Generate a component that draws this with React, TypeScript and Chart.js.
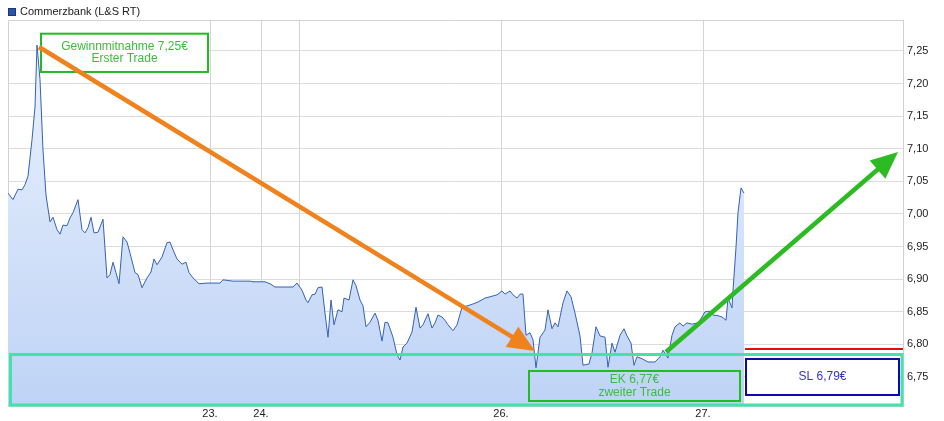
import React, { useEffect, useRef } from 'react';
import { Chart, registerables } from 'chart.js';

Chart.register(...registerables);

const seriesName = 'Commerzbank (L&S RT)';

// trading time (abstract session units) and last price
const times = [
  0, 5, 10, 14, 17, 20, 24, 27, 29, 32, 35, 38, 42, 45, 49, 52, 55, 59, 62, 65,
  70, 74, 77, 80, 83, 86, 90, 95, 99, 102, 105, 108, 111, 115, 119, 122, 127, 130, 134, 139,
  143, 146, 149, 154, 159, 162, 165, 169, 174, 178, 181, 185, 191, 199, 212, 215, 225, 242, 245, 257,
  262, 267, 285, 289, 294, 298, 300, 304, 307, 310, 314, 317, 320, 323, 326, 330, 334, 336, 341, 345,
  348, 352, 355, 358, 362, 367, 370, 374, 377, 380, 385, 389, 392, 395, 399, 404, 408, 412, 415, 420,
  424, 427, 430, 434, 437, 440, 445, 449, 454, 459, 465, 470, 477, 482, 489, 494, 497, 502, 505, 509,
  512, 515, 518, 522, 525, 528, 532, 537, 540, 544, 547, 550, 555, 559, 563, 567, 572, 575, 581, 584,
  588, 592, 597, 600, 604, 607, 612, 616, 619, 623, 626, 629, 634, 640, 647, 652, 655, 660, 664, 667,
  672, 675, 679, 684, 690, 694, 697, 702, 705, 710, 714, 718, 720, 724, 725, 728, 730, 733, 736,
];
const prices = [
  7.032, 7.022, 7.038, 7.037, 7.045, 7.058, 7.114, 7.164, 7.259, 7.206, 7.098, 7.029, 6.988, 6.995, 6.976, 6.969, 6.983, 6.982, 6.994, 7.002,
  7.022, 6.976, 6.971, 6.979, 6.995, 6.971, 6.972, 6.992, 6.902, 6.907, 6.926, 6.91, 6.893, 6.965, 6.957, 6.94, 6.91, 6.907, 6.887, 6.902,
  6.911, 6.931, 6.922, 6.934, 6.956, 6.957, 6.945, 6.931, 6.923, 6.926, 6.91, 6.902, 6.893, 6.894, 6.894, 6.899, 6.897, 6.897, 6.896, 6.896,
  6.893, 6.888, 6.888, 6.894, 6.883, 6.868, 6.864, 6.876, 6.877, 6.887, 6.888, 6.848, 6.811, 6.868, 6.83, 6.853, 6.85, 6.871, 6.868, 6.899,
  6.89, 6.868, 6.859, 6.827, 6.834, 6.848, 6.837, 6.805, 6.834, 6.833, 6.811, 6.784, 6.776, 6.796, 6.802, 6.819, 6.857, 6.825, 6.83, 6.847,
  6.825, 6.833, 6.845, 6.842, 6.837, 6.83, 6.821, 6.83, 6.857, 6.859, 6.862, 6.865, 6.871, 6.873, 6.876, 6.882, 6.877, 6.882, 6.876, 6.871,
  6.877, 6.877, 6.814, 6.818, 6.807, 6.764, 6.811, 6.822, 6.853, 6.824, 6.833, 6.827, 6.864, 6.882, 6.873, 6.848, 6.813, 6.768, 6.77, 6.787,
  6.827, 6.813, 6.811, 6.765, 6.802, 6.788, 6.814, 6.824, 6.813, 6.802, 6.768, 6.781, 6.778, 6.773, 6.773, 6.781, 6.791, 6.779, 6.814, 6.827,
  6.833, 6.828, 6.833, 6.831, 6.833, 6.842, 6.85, 6.851, 6.845, 6.844, 6.842, 6.837, 6.871, 6.856, 6.883, 6.949, 7.002, 7.04, 7.032,
];

const xMin = 0;
const xMax = 895;
const yMin = 6.7055;
const yMax = 7.2975;

const dayTickTimes = [202, 253, 291, 493, 695];
const dayTickLabels = ['23.', '24.', '', '26.', '27.'];
const priceTicks = [6.75, 6.8, 6.85, 6.9, 6.95, 7.0, 7.05, 7.1, 7.15, 7.2, 7.25];

// annotations (time / price coordinates)
const takeProfitBox = { t0: 33, t1: 200, v0: 7.2765, v1: 7.2178, lines: ['Gewinnmitnahme 7,25€', 'Erster Trade'] };
const entryBox = { t0: 521, t1: 732, v0: 6.7592, v1: 6.7132, lines: ['EK 6,77€', 'zweiter Trade'] };
const stopBox = { t0: 738, t1: 891, v0: 6.7776, v1: 6.7224, lines: ['SL 6,79€'] };
const zoneBox = { t0: 2.5, t1: 894, v0: 6.7845, v1: 6.707 };
const downArrow = { t0: 31, v0: 7.2561, t1: 527, v1: 6.7899 };
const upArrow = { t0: 658, v0: 6.7884, t1: 890, v1: 7.0951 };
const stopLine = { t0: 737, t1: 895, v: 6.793 };

const FONT = '"Liberation Sans", Arial, Helvetica, sans-serif';

function drawArrow(ctx: CanvasRenderingContext2D, x0: number, y0: number, x1: number, y1: number, color: string) {
  const ang = Math.atan2(y1 - y0, x1 - x0);
  const headLen = 27;
  const headHalf = 12;
  const bx = x1 - Math.cos(ang) * headLen;
  const by = y1 - Math.sin(ang) * headLen;
  ctx.save();
  ctx.strokeStyle = color;
  ctx.fillStyle = color;
  ctx.lineWidth = 4.5;
  ctx.lineCap = 'butt';
  ctx.beginPath();
  ctx.moveTo(x0, y0);
  ctx.lineTo(bx + Math.cos(ang) * 4, by + Math.sin(ang) * 4);
  ctx.stroke();
  ctx.beginPath();
  ctx.moveTo(x1, y1);
  ctx.lineTo(bx + Math.sin(ang) * headHalf, by - Math.cos(ang) * headHalf);
  ctx.lineTo(bx - Math.sin(ang) * headHalf, by + Math.cos(ang) * headHalf);
  ctx.closePath();
  ctx.fill();
  ctx.restore();
}

const framePlugin = {
  id: 'frame',
  beforeDatasetsDraw(chart: any) {
    const { ctx, chartArea } = chart;
    ctx.save();
    ctx.strokeStyle = '#d2d2d2';
    ctx.lineWidth = 1;
    ctx.beginPath();
    ctx.moveTo(chartArea.left + 0.5, chartArea.bottom);
    ctx.lineTo(chartArea.left + 0.5, chartArea.top + 0.5);
    ctx.lineTo(chartArea.right, chartArea.top + 0.5);
    ctx.stroke();
    ctx.restore();
  },
};

const annotationPlugin = {
  id: 'tradeAnnotations',
  afterDraw(chart: any) {
    const { ctx } = chart;
    const xs = chart.scales.x;
    const ys = chart.scales.y;
    const X = (t: number) => xs.getPixelForValue(t);
    const Y = (v: number) => ys.getPixelForValue(v);

    // legend
    ctx.save();
    ctx.fillStyle = '#2a55ad';
    ctx.fillRect(8, 8, 8, 8);
    ctx.strokeStyle = '#1b3675';
    ctx.lineWidth = 1;
    ctx.strokeRect(8.5, 8.5, 7, 7);
    ctx.fillStyle = '#222';
    ctx.font = '11px ' + FONT;
    ctx.textBaseline = 'middle';
    ctx.textAlign = 'left';
    ctx.fillText(seriesName, 20, 12);
    ctx.restore();

    // zone box
    ctx.save();
    ctx.strokeStyle = '#44e2a6';
    ctx.lineWidth = 3;
    ctx.strokeRect(X(zoneBox.t0), Y(zoneBox.v0), X(zoneBox.t1) - X(zoneBox.t0), Y(zoneBox.v1) - Y(zoneBox.v0));
    ctx.restore();

    // stop line
    ctx.save();
    ctx.strokeStyle = '#dd1111';
    ctx.lineWidth = 2;
    ctx.beginPath();
    ctx.moveTo(X(stopLine.t0), Y(stopLine.v));
    ctx.lineTo(X(stopLine.t1), Y(stopLine.v));
    ctx.stroke();
    ctx.restore();

    const drawBox = (b: any, stroke: string, fill: string | null, textColor: string) => {
      const x0 = X(b.t0), x1 = X(b.t1), y0 = Y(b.v0), y1 = Y(b.v1);
      ctx.save();
      if (fill) {
        ctx.fillStyle = fill;
        ctx.fillRect(x0, y0, x1 - x0, y1 - y0);
      }
      ctx.strokeStyle = stroke;
      ctx.lineWidth = 2;
      ctx.strokeRect(x0, y0, x1 - x0, y1 - y0);
      ctx.fillStyle = textColor;
      ctx.font = '12px ' + FONT;
      ctx.textAlign = 'center';
      ctx.textBaseline = 'middle';
      const cx = (x0 + x1) / 2;
      const cy = (y0 + y1) / 2;
      const lh = 12.5;
      const n = b.lines.length;
      b.lines.forEach((s: string, i: number) => {
        ctx.fillText(s, cx, cy + (i - (n - 1) / 2) * lh);
      });
      ctx.restore();
    };

    drawBox(takeProfitBox, '#22bb22', '#ffffff', '#3cbc3c');
    drawBox(entryBox, '#22bb22', null, '#3cbc3c');
    drawBox(stopBox, '#0a0aa8', '#ffffff', '#3434d4');

    drawArrow(ctx, X(downArrow.t0), Y(downArrow.v0), X(downArrow.t1), Y(downArrow.v1), '#f0821e');
    drawArrow(ctx, X(upArrow.t0), Y(upArrow.v0), X(upArrow.t1), Y(upArrow.v1), '#2cbb22');
  },
};

export default function App() {
  const canvasRef = useRef<HTMLCanvasElement | null>(null);

  useEffect(() => {
    document.body.style.margin = '0';
    const canvas = canvasRef.current;
    if (!canvas) return;
    const points = times.map((t, i) => ({ x: t, y: prices[i] }));
    const chart = new Chart(canvas, {
      type: 'line',
      data: {
        datasets: [
          {
            label: seriesName,
            data: points,
            borderColor: '#3461b4',
            borderWidth: 1,
            pointRadius: 0,
            tension: 0,
            fill: 'start',
            backgroundColor: (c: any) => {
              const { chart: ch } = c;
              const area = ch.chartArea;
              if (!area) return 'rgba(200,218,246,1)';
              const g = ch.ctx.createLinearGradient(0, area.top, 0, area.bottom);
              g.addColorStop(0, 'rgb(238,244,253)');
              g.addColorStop(1, 'rgb(190,211,246)');
              return g;
            },
          },
        ],
      },
      options: {
        animation: false,
        responsive: false,
        devicePixelRatio: 1,
        layout: { padding: { top: 20, left: 8, right: 0, bottom: 0 } },
        plugins: { legend: { display: false }, tooltip: { enabled: false } },
        scales: {
          x: {
            type: 'linear',
            min: xMin,
            max: xMax,
            afterBuildTicks: (scale: any) => {
              scale.ticks = dayTickTimes.map((v) => ({ value: v }));
            },
            afterFit: (scale: any) => {
              scale.height = 15;
            },
            ticks: {
              autoSkip: false,
              maxRotation: 0,
              padding: 1,
              color: '#222',
              font: { size: 11, family: FONT },
              callback: (value: any) => {
                const i = dayTickTimes.indexOf(Number(value));
                return i >= 0 ? dayTickLabels[i] : '';
              },
            },
            grid: { color: '#d4d4d4', drawTicks: false, lineWidth: 1 },
            border: { display: true, color: '#d2d2d2' },
          },
          y: {
            type: 'linear',
            position: 'right',
            min: yMin,
            max: yMax,
            afterBuildTicks: (scale: any) => {
              scale.ticks = priceTicks.map((v) => ({ value: v }));
            },
            afterFit: (scale: any) => {
              scale.width = 41;
            },
            ticks: {
              padding: 4,
              crossAlign: 'near',
              color: '#222',
              font: { size: 11, family: FONT },
              callback: (value: any) => Number(value).toFixed(2).replace('.', ','),
            },
            grid: { color: '#dcdcdc', drawTicks: false, lineWidth: 1 },
            border: { display: true, color: '#d2d2d2' },
          },
        },
      },
      plugins: [framePlugin, annotationPlugin],
    } as any);
    return () => chart.destroy();
  }, []);

  return (
    <div style={{ width: 944, height: 421, background: '#fff' }}>
      <canvas ref={canvasRef} width={944} height={421} style={{ display: 'block' }} />
    </div>
  );
}
